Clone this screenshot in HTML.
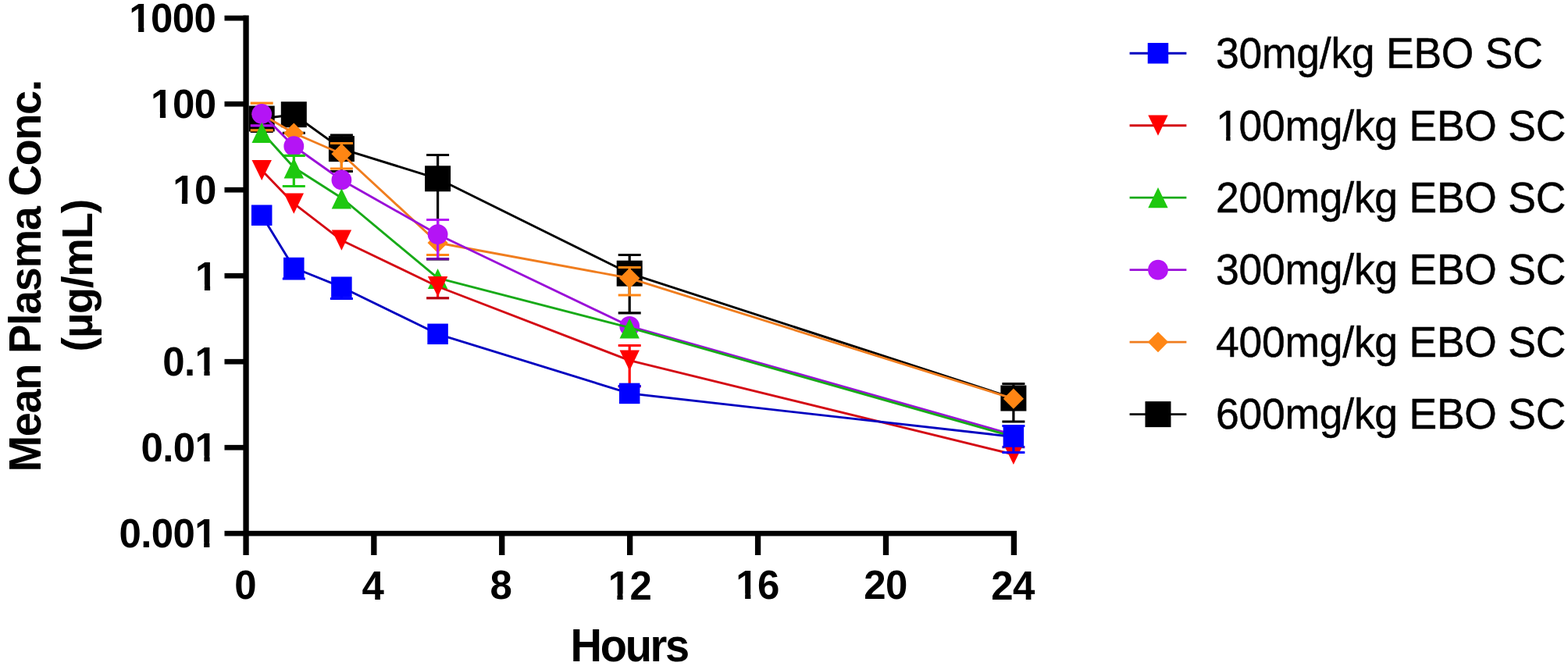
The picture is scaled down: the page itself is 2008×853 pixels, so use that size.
<!DOCTYPE html>
<html lang="en"><head><meta charset="utf-8"><title>Mean Plasma Conc. vs Hours</title>
<style>
html,body{margin:0;padding:0;background:#fff;}
body{width:2008px;height:853px;overflow:hidden;}
svg{display:block;}
text{font-family:"Liberation Sans",Arial,Helvetica,sans-serif;fill:#000;}
.b{font-weight:bold;}
</style></head><body>
<svg width="2008" height="853" viewBox="0 0 2008 853">
<rect width="2008" height="853" fill="#fff"/>
<g>
<path d="M335.20 152.00V168.50M320.70 168.50H349.70" stroke="#000000" stroke-width="3.2" fill="none"/>
<path d="M376.30 146.70V170.40M361.80 170.40H390.80" stroke="#000000" stroke-width="3.2" fill="none"/>
<path d="M437.40 190.60V173.00M422.90 173.00H451.90" stroke="#000000" stroke-width="3.2" fill="none"/>
<path d="M437.40 190.60V219.50M422.90 219.50H451.90" stroke="#000000" stroke-width="3.2" fill="none"/>
<path d="M560.60 228.80V198.50M546.10 198.50H575.10" stroke="#000000" stroke-width="3.2" fill="none"/>
<path d="M560.60 228.80V332.00M546.10 332.00H575.10" stroke="#000000" stroke-width="3.2" fill="none"/>
<path d="M806.20 350.20V326.50M791.70 326.50H820.70" stroke="#000000" stroke-width="3.2" fill="none"/>
<path d="M806.20 350.20V400.80M791.70 400.80H820.70" stroke="#000000" stroke-width="3.2" fill="none"/>
<path d="M1297.90 510.00V491.50M1283.40 491.50H1312.40" stroke="#000000" stroke-width="3.2" fill="none"/>
<path d="M1297.90 510.00V540.00M1283.40 540.00H1312.40" stroke="#000000" stroke-width="3.2" fill="none"/>
<polyline points="335.20,152.00 376.30,146.70 437.40,190.60 560.60,228.80 806.20,350.20 1297.90,510.00" fill="none" stroke="#000000" stroke-width="2.9" stroke-linejoin="round"/>
<rect x="318.70" y="135.50" width="33.00" height="33.00" fill="#000000"/>
<rect x="359.80" y="130.20" width="33.00" height="33.00" fill="#000000"/>
<rect x="420.90" y="174.10" width="33.00" height="33.00" fill="#000000"/>
<rect x="544.10" y="212.30" width="33.00" height="33.00" fill="#000000"/>
<rect x="789.70" y="333.70" width="33.00" height="33.00" fill="#000000"/>
<rect x="1281.40" y="493.50" width="33.00" height="33.00" fill="#000000"/>
</g>
<g>
<path d="M335.20 146.40V132.20M320.70 132.20H349.70" stroke="#FF8614" stroke-width="3.2" fill="none"/>
<path d="M335.20 146.40V166.80M320.70 166.80H349.70" stroke="#FF8614" stroke-width="3.2" fill="none"/>
<path d="M437.40 197.00V183.50M422.90 183.50H451.90" stroke="#FF8614" stroke-width="3.2" fill="none"/>
<path d="M437.40 197.00V216.00M422.90 216.00H451.90" stroke="#FF8614" stroke-width="3.2" fill="none"/>
<path d="M560.60 311.00V326.50M546.10 326.50H575.10" stroke="#FF8614" stroke-width="3.2" fill="none"/>
<path d="M806.20 356.30V342.50M791.70 342.50H820.70" stroke="#FF8614" stroke-width="3.2" fill="none"/>
<path d="M806.20 356.30V378.00M791.70 378.00H820.70" stroke="#FF8614" stroke-width="3.2" fill="none"/>
<polyline points="335.20,146.40 376.30,170.50 437.40,197.00 560.60,311.00 806.20,356.30 1297.90,510.70" fill="none" stroke="#F07D1E" stroke-width="2.9" stroke-linejoin="round"/>
<polygon points="335.20,133.30 348.30,146.40 335.20,159.50 322.10,146.40" fill="#FF8614"/>
<polygon points="376.30,157.40 389.40,170.50 376.30,183.60 363.20,170.50" fill="#FF8614"/>
<polygon points="437.40,183.90 450.50,197.00 437.40,210.10 424.30,197.00" fill="#FF8614"/>
<polygon points="560.60,297.90 573.70,311.00 560.60,324.10 547.50,311.00" fill="#FF8614"/>
<polygon points="806.20,343.20 819.30,356.30 806.20,369.40 793.10,356.30" fill="#FF8614"/>
<polygon points="1297.90,497.60 1311.00,510.70 1297.90,523.80 1284.80,510.70" fill="#FF8614"/>
</g>
<g>
<path d="M335.20 146.00V160.80M320.70 160.80H349.70" stroke="#B414F5" stroke-width="3.2" fill="none"/>
<path d="M560.60 300.20V281.50M546.10 281.50H575.10" stroke="#B414F5" stroke-width="3.2" fill="none"/>
<path d="M560.60 300.20V331.60" stroke="#B414F5" stroke-width="3.2" fill="none"/>
<path d="M546.10 331.60H575.10" stroke="#6E00A8" stroke-width="3.2" fill="none"/>
<path d="M1297.90 556.80V572.60" stroke="#B414F5" stroke-width="3.2" fill="none"/>
<path d="M1283.40 572.60H1312.40" stroke="#3A0AC8" stroke-width="3.2" fill="none"/>
<polyline points="335.20,146.00 376.30,187.20 437.40,230.50 560.60,300.20 806.20,417.80 1297.90,556.80" fill="none" stroke="#9A10D8" stroke-width="2.9" stroke-linejoin="round"/>
<circle cx="335.20" cy="146.00" r="12.90" fill="#B414F5"/>
<circle cx="376.30" cy="187.20" r="12.90" fill="#B414F5"/>
<circle cx="437.40" cy="230.50" r="12.90" fill="#B414F5"/>
<circle cx="560.60" cy="300.20" r="12.90" fill="#B414F5"/>
<circle cx="806.20" cy="417.80" r="12.90" fill="#B414F5"/>
<circle cx="1297.90" cy="556.80" r="12.90" fill="#B414F5"/>
</g>
<g>
<path d="M376.30 215.30V199.40M361.80 199.40H390.80" stroke="#1EC80F" stroke-width="3.2" fill="none"/>
<path d="M376.30 215.30V238.50M361.80 238.50H390.80" stroke="#1EC80F" stroke-width="3.2" fill="none"/>
<polyline points="335.20,169.00 376.30,214.50 437.40,253.50 560.60,356.20 806.20,419.70 1297.90,559.30" fill="none" stroke="#18AA18" stroke-width="2.9" stroke-linejoin="round"/>
<polygon points="335.20,156.72 347.90,182.88 322.50,182.88" fill="#1EC80F"/>
<polygon points="376.30,202.22 389.00,228.38 363.60,228.38" fill="#1EC80F"/>
<polygon points="437.40,241.22 450.10,267.38 424.70,267.38" fill="#1EC80F"/>
<polygon points="560.60,343.92 573.30,370.08 547.90,370.08" fill="#1EC80F"/>
<polygon points="806.20,407.42 818.90,433.58 793.50,433.58" fill="#1EC80F"/>
<polygon points="1297.90,547.02 1310.60,573.18 1285.20,573.18" fill="#1EC80F"/>
</g>
<g>
<path d="M560.60 367.00V381.80" stroke="#FF0000" stroke-width="3.2" fill="none"/>
<path d="M546.10 381.80H575.10" stroke="#B4000F" stroke-width="3.2" fill="none"/>
<path d="M806.20 461.70V442.50M791.70 442.50H820.70" stroke="#FF0000" stroke-width="3.2" fill="none"/>
<path d="M806.20 461.70V495.00M791.70 495.00H820.70" stroke="#FF0000" stroke-width="3.2" fill="none"/>
<polyline points="335.20,218.00 376.30,260.70 437.40,307.70 560.60,367.00 806.20,461.70 1297.90,582.00" fill="none" stroke="#D40A14" stroke-width="2.9" stroke-linejoin="round"/>
<polygon points="322.50,204.92 347.90,204.92 335.20,231.08" fill="#FF0000"/>
<polygon points="363.60,247.62 389.00,247.62 376.30,273.78" fill="#FF0000"/>
<polygon points="424.70,294.62 450.10,294.62 437.40,320.78" fill="#FF0000"/>
<polygon points="547.90,353.92 573.30,353.92 560.60,380.08" fill="#FF0000"/>
<polygon points="793.50,448.62 818.90,448.62 806.20,474.78" fill="#FF0000"/>
<polygon points="1285.20,568.92 1310.60,568.92 1297.90,595.08" fill="#FF0000"/>
</g>
<g>
<path d="M376.30 343.00V357.00M361.80 357.00H390.80" stroke="#0000FF" stroke-width="3.2" fill="none"/>
<path d="M437.40 367.70V382.50M422.90 382.50H451.90" stroke="#0000FF" stroke-width="3.2" fill="none"/>
<path d="M806.20 503.90V494.50M791.70 494.50H820.70" stroke="#0000FF" stroke-width="3.2" fill="none"/>
<path d="M1297.90 559.50V545.50M1283.40 545.50H1312.40" stroke="#0000FF" stroke-width="3.2" fill="none"/>
<path d="M1297.90 559.50V579.50M1283.40 579.50H1312.40" stroke="#0000FF" stroke-width="3.2" fill="none"/>
<polyline points="335.20,275.70 376.30,343.00 437.40,367.70 560.60,427.80 806.20,503.90 1297.90,559.50" fill="none" stroke="#0000C0" stroke-width="2.9" stroke-linejoin="round"/>
<rect x="321.95" y="262.45" width="26.50" height="26.50" fill="#0000FF"/>
<rect x="363.05" y="329.75" width="26.50" height="26.50" fill="#0000FF"/>
<rect x="424.15" y="354.45" width="26.50" height="26.50" fill="#0000FF"/>
<rect x="547.35" y="414.55" width="26.50" height="26.50" fill="#0000FF"/>
<rect x="792.95" y="490.65" width="26.50" height="26.50" fill="#0000FF"/>
<rect x="1284.65" y="546.25" width="26.50" height="26.50" fill="#0000FF"/>
</g>
<g fill="#000">
<rect x="311.40" y="19.65" width="7.3" height="691.35"/>
<rect x="287.50" y="679.85" width="1014.55" height="6.7"/>
<rect x="287.50" y="19.85" width="27.55" height="6.7"/>
<rect x="287.50" y="129.85" width="27.55" height="6.7"/>
<rect x="287.50" y="239.85" width="27.55" height="6.7"/>
<rect x="287.50" y="349.85" width="27.55" height="6.7"/>
<rect x="287.50" y="459.85" width="27.55" height="6.7"/>
<rect x="287.50" y="569.85" width="27.55" height="6.7"/>
<rect x="475.17" y="683.20" width="7.3" height="27.80"/>
<rect x="639.09" y="683.20" width="7.3" height="27.80"/>
<rect x="803.01" y="683.20" width="7.3" height="27.80"/>
<rect x="966.93" y="683.20" width="7.3" height="27.80"/>
<rect x="1130.85" y="683.20" width="7.3" height="27.80"/>
<rect x="1294.77" y="683.20" width="7.3" height="27.80"/>
</g>
<text id="yl0" class="b" font-size="51.0" text-anchor="start" letter-spacing="-0.600" transform="translate(165.31 41.05) scale(1.0000 1.0300)">1000</text>
<text id="yl1" class="b" font-size="51.0" text-anchor="start" letter-spacing="-0.600" transform="translate(193.12 151.20) scale(1.0000 1.0300)">100</text>
<text id="yl2" class="b" font-size="51.0" text-anchor="start" letter-spacing="-0.600" transform="translate(221.14 260.85) scale(1.0000 1.0300)">10</text>
<text id="yl3" class="b" font-size="51.0" text-anchor="start" letter-spacing="-0.600" transform="translate(250.10 371.50) scale(1.0000 1.0300)">1</text>
<text id="yl4" class="b" font-size="51.0" text-anchor="start" letter-spacing="-0.600" transform="translate(208.15 480.85) scale(1.0000 1.0300)">0.1</text>
<text id="yl5" class="b" font-size="51.0" text-anchor="start" letter-spacing="-0.600" transform="translate(180.45 590.85) scale(1.0000 1.0300)">0.01</text>
<text id="yl6" class="b" font-size="51.0" text-anchor="start" letter-spacing="-0.600" transform="translate(152.50 701.00) scale(1.0000 1.0300)">0.001</text>
<text id="xl0" class="b" font-size="51.0" text-anchor="start" letter-spacing="-0.600" transform="translate(300.26 767.00) scale(1.0000 1.0300)">0</text>
<text id="xl4" class="b" font-size="51.0" text-anchor="start" letter-spacing="-0.600" transform="translate(463.50 767.50) scale(1.0000 1.0300)">4</text>
<text id="xl8" class="b" font-size="51.0" text-anchor="start" letter-spacing="-0.600" transform="translate(627.58 767.00) scale(1.0000 1.0300)">8</text>
<text id="xl12" class="b" font-size="51.0" text-anchor="start" letter-spacing="-0.600" transform="translate(778.70 767.50) scale(1.0000 1.0300)">12</text>
<text id="xl16" class="b" font-size="51.0" text-anchor="start" letter-spacing="-0.600" transform="translate(942.22 767.00) scale(1.0000 1.0300)">16</text>
<text id="xl20" class="b" font-size="51.0" text-anchor="start" letter-spacing="-0.600" transform="translate(1106.26 767.00) scale(1.0000 1.0300)">20</text>
<text id="xl24" class="b" font-size="51.0" text-anchor="start" letter-spacing="-0.600" transform="translate(1269.35 767.50) scale(1.0000 1.0300)">24</text>
<text id="xt" class="b" font-size="56" text-anchor="start" letter-spacing="-2.250" transform="translate(730.50 846.85) scale(1.0000 1.0500)">Hours</text>
<text id="yt1" class="b" font-size="56" text-anchor="start" letter-spacing="-1.440" transform="translate(51.90 604.43) rotate(-90) scale(1.0000 1.0200)">Mean Plasma Conc.</text>
<text id="yt2" class="b" font-size="56" text-anchor="start" letter-spacing="-1.220" transform="translate(118.10 450.50) rotate(-90)">(µg/mL)</text>
<path d="M1446.6 68.20H1519.4" stroke="#0000C0" stroke-width="2.9"/>
<rect x="1469.75" y="54.95" width="26.50" height="26.50" fill="#0000FF"/>
<text id="lg0" font-size="53.5" text-anchor="start" letter-spacing="-0.260" stroke="#000" stroke-width="0.45" transform="translate(1557.00 87.40) scale(1.0000 1.0400)">30mg/kg EBO SC</text>
<path d="M1446.6 160.68H1519.4" stroke="#D40A14" stroke-width="2.9"/>
<polygon points="1470.30,147.60 1495.70,147.60 1483.00,173.76" fill="#FF0000"/>
<text id="lg1" font-size="53.5" text-anchor="start" letter-spacing="-0.260" stroke="#000" stroke-width="0.45" transform="translate(1557.00 179.73) scale(1.0000 1.0400)">100mg/kg EBO SC</text>
<path d="M1446.6 253.16H1519.4" stroke="#18AA18" stroke-width="2.9"/>
<polygon points="1483.00,240.08 1495.70,266.24 1470.30,266.24" fill="#1EC80F"/>
<text id="lg2" font-size="53.5" text-anchor="start" letter-spacing="-0.260" stroke="#000" stroke-width="0.45" transform="translate(1557.00 272.06) scale(1.0000 1.0400)">200mg/kg EBO SC</text>
<path d="M1446.6 345.64H1519.4" stroke="#9A10D8" stroke-width="2.9"/>
<circle cx="1483.00" cy="345.64" r="12.90" fill="#B414F5"/>
<text id="lg3" font-size="53.5" text-anchor="start" letter-spacing="-0.260" stroke="#000" stroke-width="0.45" transform="translate(1557.00 364.39) scale(1.0000 1.0400)">300mg/kg EBO SC</text>
<path d="M1446.6 438.12H1519.4" stroke="#F07D1E" stroke-width="2.9"/>
<polygon points="1483.00,425.02 1496.10,438.12 1483.00,451.22 1469.90,438.12" fill="#FF8614"/>
<text id="lg4" font-size="53.5" text-anchor="start" letter-spacing="-0.260" stroke="#000" stroke-width="0.45" transform="translate(1557.00 456.72) scale(1.0000 1.0400)">400mg/kg EBO SC</text>
<path d="M1446.6 530.60H1519.4" stroke="#000000" stroke-width="2.9"/>
<rect x="1466.50" y="514.10" width="33.00" height="33.00" fill="#000000"/>
<text id="lg5" font-size="53.5" text-anchor="start" letter-spacing="-0.260" stroke="#000" stroke-width="0.45" transform="translate(1557.00 549.05) scale(1.0000 1.0400)">600mg/kg EBO SC</text>
<g fill="#fff">
<rect x="166.5" y="33.9" width="10.65" height="8.7"/>
<rect x="184.35" y="33.9" width="10.0" height="8.7"/>
<rect x="194.25" y="144.15" width="10.65" height="8.7"/>
<rect x="212.1" y="144.15" width="10.0" height="8.7"/>
<rect x="222.25" y="253.65" width="10.65" height="8.7"/>
<rect x="240.1" y="253.65" width="10.0" height="8.7"/>
<rect x="251.25" y="364.4" width="10.65" height="8.7"/>
<rect x="269.1" y="364.4" width="10.0" height="8.7"/>
<rect x="250.75" y="473.65" width="10.65" height="8.7"/>
<rect x="268.6" y="473.65" width="10.0" height="8.7"/>
<rect x="250.75" y="583.65" width="10.65" height="8.7"/>
<rect x="268.6" y="583.65" width="10.0" height="8.7"/>
<rect x="250.5" y="693.9" width="10.65" height="8.7"/>
<rect x="268.35" y="693.9" width="10.0" height="8.7"/>
<rect x="780.0" y="760.4" width="10.4" height="8.7"/>
<rect x="797.6" y="760.4" width="10.25" height="8.7"/>
<rect x="943.5" y="759.9" width="10.65" height="8.7"/>
<rect x="961.35" y="759.9" width="10.0" height="8.7"/>
<rect x="1558.75" y="173.65" width="11.4" height="7.7"/>
<rect x="1575.6" y="173.65" width="11.0" height="7.7"/>
</g>
</svg>
</body></html>
